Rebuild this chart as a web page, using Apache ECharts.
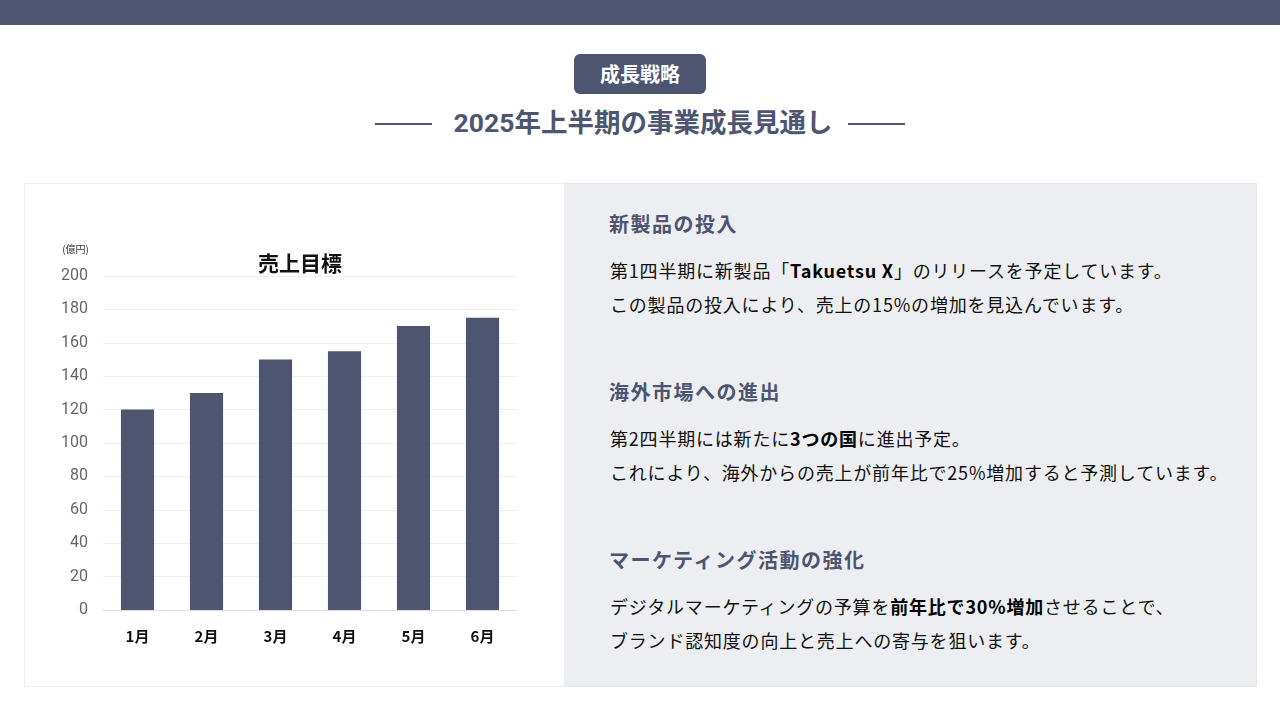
<!DOCTYPE html>
<html lang="ja">
<head>
<meta charset="utf-8">
<script src="https://cdn.jsdelivr.net/npm/echarts@6/dist/echarts.min.js"></script>
<style>
  html, body { margin:0; padding:0; width:1280px; height:720px; background:#fff; overflow:hidden;
    font-family: "Noto Sans CJK JP", "Noto Sans", sans-serif; }
  .topbar { position:absolute; left:0; top:0; width:1280px; height:25px; background:#4d5571; }
  .badge { position:absolute; left:574px; top:54px; width:132px; height:40px; background:#4d5571;
    border-radius:6px; color:#fff; font-weight:700; font-size:20px; line-height:40px; text-align:center; }
  .title { position:absolute; left:3px; top:105px; width:1280px; text-align:center; font-size:26.5px; font-weight:700;
    color:#4d5571; line-height:36px; font-family: Roboto, "Noto Sans CJK JP", sans-serif; }
  .line { position:absolute; top:123px; width:57px; height:2px; background:#4d5571; }
  .card-left { position:absolute; left:24px; top:183px; width:539px; height:502px; border:1px solid #eceef0; border-right:none; background:#fff; }
  .card-right { position:absolute; left:564px; top:183px; width:692px; height:502px; background:#edeef2; border:1px solid #e6e8ec; border-left:none; }
  #chart { position:absolute; left:24px; top:183px; width:540px; height:503px; }
  .h { position:absolute; left:609px; font-size:20px; font-weight:700; color:#4d5571; line-height:28px; letter-spacing:1.5px; }
  .p { position:absolute; left:610px; font-size:18px; color:#111; line-height:34px; letter-spacing:0.8px; }
  .p b { font-weight:700; color:#000; }
</style>
</head>
<body>
<div class="topbar"></div>
<div class="badge">成長戦略</div>
<div class="line" style="left:375px"></div>
<div class="line" style="left:848px"></div>
<div class="title">2025年上半期の事業成長見通し</div>
<div class="card-left"></div>
<div class="card-right"></div>
<div id="chart"></div>

<div class="h" style="top:210px">新製品の投入</div>
<div class="p" style="top:253px">第1四半期に新製品「<b>Takuetsu X</b>」のリリースを予定しています。<br>この製品の投入により、売上の15%の増加を見込んでいます。</div>

<div class="h" style="top:378px">海外市場への進出</div>
<div class="p" style="top:421px">第2四半期には新たに<b>3つの国</b>に進出予定。<br>これにより、海外からの売上が前年比で25%増加すると予測しています。</div>

<div class="h" style="top:546px">マーケティング活動の強化</div>
<div class="p" style="top:589px">デジタルマーケティングの予算を<b>前年比で30%増加</b>させることで、<br>ブランド認知度の向上と売上への寄与を狙います。</div>

<script>
const categories = ['1月', '2月', '3月', '4月', '5月', '6月'];
const salesTarget = [120, 130, 150, 155, 170, 175];
const chartTitle = '売上目標';
const yAxisName = '(億円)';

const chart = echarts.init(document.getElementById('chart'));
chart.setOption({
  animation: false,
  title: {
    text: chartTitle,
    left: 229, top: 65,
    textStyle: { fontSize: 21, fontWeight: 'bold', color: '#111', fontFamily: '"Noto Sans CJK JP", sans-serif' }
  },
  grid: { left: 79, right: 47, top: 93, bottom: 76, containLabel: false },
  xAxis: {
    type: 'category',
    data: categories,
    axisLine: { lineStyle: { color: '#dddddd' } },
    axisTick: { show: false },
    axisLabel: { margin: 19, fontSize: 15, fontWeight: 'bold', color: '#111', fontFamily: '"Noto Sans CJK JP", sans-serif' }
  },
  yAxis: {
    type: 'value',
    min: 0, max: 200, interval: 20,
    name: yAxisName,
    nameGap: 22,
    nameTextStyle: { fontSize: 10, color: '#333', align: 'right', padding: [0, 14, 0, 0], fontFamily: '"Noto Sans CJK JP", sans-serif' },
    axisLine: { show: false },
    axisTick: { show: false },
    axisLabel: { margin: 15, fontSize: 16, color: '#666', fontFamily: 'Roboto, sans-serif' },
    splitLine: { lineStyle: { color: '#f0f0f0' } }
  },
  series: [{
    type: 'bar',
    data: salesTarget,
    barWidth: '48%',
    itemStyle: { color: '#4d5571' }
  }]
});
</script>
</body>
</html>
